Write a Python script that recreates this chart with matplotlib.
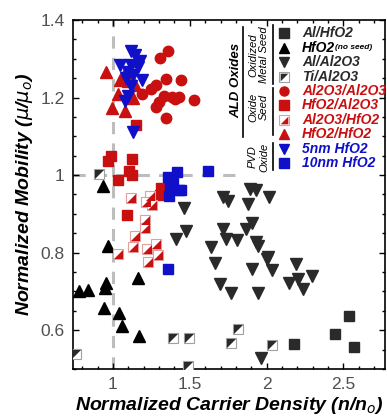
import numpy as np
import matplotlib
matplotlib.use("Agg")
import matplotlib.pyplot as plt
from matplotlib.ticker import MultipleLocator

plt.rcParams['font.family'] = ['Liberation Sans', 'DejaVu Sans']

# --- data (normalized carrier density, normalized mobility) ---
al_hfo2_x = [2.177, 2.448, 2.539, 2.567]
al_hfo2_y = [0.564, 0.590, 0.637, 0.558]

hfo2_noseed_x = [0.779, 0.838, 0.946, 0.957, 1.162, 0.940, 1.039, 1.061, 1.169, 0.968, 0.935]
hfo2_noseed_y = [0.701, 0.703, 0.708, 0.723, 0.735, 0.658, 0.644, 0.612, 0.584, 0.818, 0.973]

al_al2o3_x = [1.890, 1.933, 2.015, 1.716, 1.749, 1.879, 1.461, 1.474, 1.716, 1.868, 1.907,
              1.738, 1.807, 1.929, 1.944, 1.641, 2.008, 1.662, 2.002, 1.907, 2.037, 2.193,
              1.695, 1.771, 1.944, 2.145, 2.203, 2.297, 2.236, 1.965, 1.411]
al_al2o3_y = [0.964, 0.962, 0.943, 0.943, 0.934, 0.926, 0.915, 0.857, 0.860, 0.862, 0.876,
              0.836, 0.832, 0.827, 0.817, 0.815, 0.789, 0.774, 0.783, 0.757, 0.755, 0.772,
              0.718, 0.695, 0.695, 0.721, 0.732, 0.740, 0.706, 0.528, 0.834]

ti_al2o3_x = [0.909, 0.758, 1.390, 1.494, 1.487, 1.814, 1.771, 2.037]
ti_al2o3_y = [1.003, 0.538, 0.581, 0.580, 0.509, 0.603, 0.567, 0.561]

al2o3_al2o3_x = [1.357, 1.307, 1.342, 1.444, 1.277, 1.249, 1.188, 1.329, 1.385, 1.433,
                 1.405, 1.526, 1.297, 1.281, 1.346]
al2o3_al2o3_y = [1.319, 1.302, 1.248, 1.244, 1.233, 1.222, 1.210, 1.205, 1.201, 1.202,
                 1.197, 1.193, 1.188, 1.176, 1.148]

hfo2_al2o3_x = [1.151, 0.989, 0.968, 1.125, 1.104, 1.125, 1.032, 1.314, 1.307, 1.091]
hfo2_al2o3_y = [1.128, 1.049, 1.037, 1.041, 1.011, 1.000, 0.988, 0.966, 0.949, 0.897]

al2o3_hfo2_x = [1.032, 1.119, 1.141, 1.130, 1.206, 1.206, 1.221, 1.227, 1.281, 1.292,
                1.238, 1.212, 1.255]
al2o3_hfo2_y = [0.797, 0.940, 0.844, 0.815, 0.885, 0.863, 0.810, 0.776, 0.823, 0.793,
                0.945, 0.930, 0.923]

hfo2_hfo2_x = [0.953, 1.076, 1.043, 1.097, 1.141, 1.032, 1.130, 0.996, 1.076]
hfo2_hfo2_y = [1.267, 1.263, 1.246, 1.242, 1.233, 1.210, 1.199, 1.174, 1.165]

pvd5_x = [1.119, 1.141, 1.043, 1.119, 1.173, 1.162, 1.097, 1.086, 1.130, 1.188, 1.119,
          1.076, 1.097, 1.130]
pvd5_y = [1.319, 1.310, 1.285, 1.285, 1.293, 1.280, 1.267, 1.250, 1.259, 1.246, 1.229,
          1.191, 1.205, 1.110]

pvd10_x = [1.357, 1.416, 1.390, 1.368, 1.433, 1.364, 1.619, 1.446, 1.357]
pvd10_y = [0.994, 1.009, 0.985, 0.973, 0.962, 0.947, 1.011, 0.962, 0.757]

BLACK = '#2a2a2a'
RED = '#c81010'
BLUE = '#1010c8'

# lower-right / upper-left triangles for half filled squares
tri_lr = [(-1, -1), (1, -1), (1, 1), (-1, -1)]
tri_ul = [(-1, -1), (-1, 1), (1, 1), (-1, -1)]

fig = plt.figure(figsize=(3.87, 4.19), dpi=100)
ax = fig.add_axes([0.1886, 0.1193, 0.8062, 0.833])

# reference lines
ax.axvline(1, color='#bdbdbd', lw=2.2, ls=(0, (4, 3)), zorder=1)
ax.plot([0.74, 1.85], [1, 1], color='#bdbdbd', lw=2.2, ls=(0, (4, 3)), zorder=1)

ms = 7.5
ax.plot(al_hfo2_x, al_hfo2_y, 's', color=BLACK, ms=ms - 0.5, ls='none', zorder=3)
ax.plot(hfo2_noseed_x, hfo2_noseed_y, '^', color='black', ms=ms + 0.5, ls='none', zorder=3)
ax.plot(al_al2o3_x, al_al2o3_y, 'v', color=BLACK, ms=ms + 0.5, ls='none', zorder=3)
ax.plot(ti_al2o3_x, ti_al2o3_y, 's', mfc='white', mec='#a0a0a0', mew=0.8, ms=ms,
        ls='none', zorder=3)
ax.plot(ti_al2o3_x, ti_al2o3_y, marker=tri_ul, color=BLACK, ms=ms - 1, mew=0, ls='none', zorder=4)
ax.plot(al2o3_al2o3_x, al2o3_al2o3_y, 'o', color=RED, ms=ms, ls='none', zorder=3)
ax.plot(hfo2_al2o3_x, hfo2_al2o3_y, 's', color=RED, ms=ms - 0.5, ls='none', zorder=3)
ax.plot(al2o3_hfo2_x, al2o3_hfo2_y, 's', mfc='white', mec='#e0a0a0', mew=0.8, ms=ms,
        ls='none', zorder=3)
ax.plot(al2o3_hfo2_x, al2o3_hfo2_y, marker=tri_lr, color=RED, ms=ms - 1, mew=0, ls='none', zorder=4)
ax.plot(hfo2_hfo2_x, hfo2_hfo2_y, '^', color=RED, ms=ms + 0.5, ls='none', zorder=3)
ax.plot(pvd5_x, pvd5_y, 'v', color=BLUE, ms=ms + 0.5, ls='none', zorder=3)
ax.plot(pvd10_x, pvd10_y, 's', color=BLUE, ms=ms - 0.5, ls='none', zorder=3)

ax.set_xlim(0.74, 2.77)
ax.set_ylim(0.5, 1.4)
ax.xaxis.set_minor_locator(MultipleLocator(0.1))
ax.yaxis.set_minor_locator(MultipleLocator(0.05))
ax.set_xticks([1, 1.5, 2, 2.5])
ax.set_xticklabels(['1', '1.5', '2', '2.5'])
ax.set_yticks([0.6, 0.8, 1.0, 1.2, 1.4])
ax.set_yticklabels(['0.6', '0.8', '1', '1.2', '1.4'])
ax.tick_params(which='both', direction='in', top=True, right=True, labelsize=12.5,
               labelcolor='#505050', width=1)
ax.tick_params(which='major', length=4, pad=6)
ax.tick_params(which='minor', length=2.5)
for s in ax.spines.values():
    s.set_linewidth(1.2)

ax.set_xlabel(r'Normalized Carrier Density (n/n$_o$)', fontsize=14, fontweight='bold',
              style='italic', labelpad=2)
ax.set_ylabel(r'Normalized Mobility ($\mu$/$\mu_o$)', fontsize=14, fontweight='bold',
              style='italic', labelpad=4)

# --- custom legend ---
def fx(px):
    return (px - 73) / 312.0

def fy(py):
    return (369 - py) / 349.0

rows = [33, 48, 62, 77, 91, 105, 120, 134, 149, 163]
labels = ['Al/HfO2', 'HfO2', 'Al/Al2O3', 'Ti/Al2O3', 'Al2O3/Al2O3', 'HfO2/Al2O3',
          'Al2O3/HfO2', 'HfO2/HfO2', '5nm HfO2', '10nm HfO2']
colors = [BLACK, 'black', BLACK, BLACK, RED, RED, RED, RED, BLUE, BLUE]
markers = ['s', '^', 'v', 'half_ul', 'o', 's', 'half_lr', '^', 'v', 's']
tr = ax.transAxes
for py, lab, c, m in zip(rows, labels, colors, markers):
    mx, my = fx(284), fy(py)
    if m == 'half_ul':
        ax.plot([mx], [my], 's', mfc='white', mec='#a0a0a0', mew=0.8, ms=ms - 1,
                transform=tr, clip_on=False)
        ax.plot([mx], [my], marker=tri_ul, color=BLACK, ms=ms - 2, mew=0, transform=tr,
                clip_on=False)
    elif m == 'half_lr':
        ax.plot([mx], [my], 's', mfc='white', mec='#e0a0a0', mew=0.8, ms=ms - 1,
                transform=tr, clip_on=False)
        ax.plot([mx], [my], marker=tri_lr, color=c, ms=ms - 2, mew=0, transform=tr,
                clip_on=False)
    else:
        ax.plot([mx], [my], m, color=c, ms=ms - 1, transform=tr, clip_on=False)
    ax.text(fx(302), my, lab, color=c, fontsize=10, fontweight='bold', style='italic',
            va='center', ha='left', transform=tr, clip_on=False)
ax.text(fx(335), fy(48), '(no seed)', color='black', fontsize=6, fontweight='bold',
        style='italic', va='center', ha='left', transform=tr)

# group brackets
for y0, y1 in [(25, 84), (88, 135), (143, 170)]:
    ax.plot([fx(273), fx(273)], [fy(y0), fy(y1)], color='black', lw=1.2, transform=tr)
ax.plot([fx(243), fx(243)], [fy(27), fy(137)], color='black', lw=1.2, transform=tr)

grp = [('Oxidized', 'Metal Seed', 55), ('Oxide', 'Seed', 107), ('PVD', 'Oxide', 157)]
for t1, t2, yc in grp:
    ax.text(fx(253), fy(yc), t1, rotation=90, fontsize=8, style='italic', ha='center',
            va='center', transform=tr)
    ax.text(fx(264), fy(yc), t2, rotation=90, fontsize=8, style='italic', ha='center',
            va='center', transform=tr)
ax.text(fx(236), fy(80), 'ALD Oxides', rotation=90, fontsize=9.5, fontweight='bold',
        style='italic', ha='center', va='center', transform=tr)

fig.savefig('out.png', dpi=100)
